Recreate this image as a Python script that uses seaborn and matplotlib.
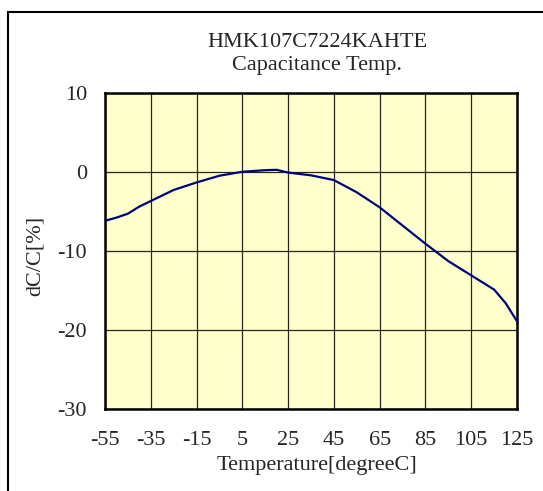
import numpy as np
import pandas as pd
import seaborn as sns
import matplotlib.pyplot as plt
from matplotlib.patches import Rectangle

# data
temperature = [-55, -50, -45, -40, -35, -25, -15, -5, 5, 15, 20, 25, 35, 45,
               55, 65, 75, 85, 95, 105, 115, 120, 125]
dcc = [-6.2, -5.8, -5.3, -4.4, -3.7, -2.3, -1.35, -0.5, 0.0, 0.2, 0.25, -0.1,
       -0.45, -1.05, -2.6, -4.5, -6.8, -9.1, -11.3, -13.1, -14.9, -16.6, -18.9]
x_ticks = [-55, -35, -15, 5, 25, 45, 65, 85, 105, 125]
y_ticks = [10, 0, -10, -20, -30]
title_lines = ["HMK107C7224KAHTE", "Capacitance Temp."]

sns.set_style("white")
plt.rcParams['font.family'] = ['Liberation Serif', 'DejaVu Serif']
FS = 16

W, H = 543, 491
fig = plt.figure(figsize=(W / 100, H / 100), dpi=100)
ax = fig.add_axes([105 / W, 1 - 409 / H, (517 - 105) / W, (409 - 92.7) / H])

df = pd.DataFrame({'Temperature': temperature, 'dC/C': dcc})
sns.lineplot(data=df, x='Temperature', y='dC/C', ax=ax, color='#000080',
             linewidth=1.6, zorder=3)

ax.set_facecolor('#FFFFCC')
ax.set_xlim(-55, 125)
ax.set_ylim(-30, 10)
ax.set_xticks(np.arange(-55, 126, 20))
ax.set_xticklabels([str(t) for t in x_ticks])
ax.set_yticks(y_ticks)
ax.set_yticklabels([str(t) for t in y_ticks])
ax.grid(True, color='black', linewidth=0.9, alpha=0.85)
ax.tick_params(length=0, labelsize=FS)
ax.tick_params(axis='x', pad=16)
ax.tick_params(axis='y', pad=13)
for s in ax.spines.values():
    s.set_color('black')
    s.set_linewidth(1.8)

ax.set_xlabel('')
ax.set_ylabel('')
fig.text(317 / W, 1 - 470 / H, 'Temperature[degreeC]', ha='center', va='baseline', fontsize=FS)
fig.text(35 / W, 1 - 256 / H, 'dC/C[%]', ha='center', va='center', rotation=90, fontsize=FS)

fig.text(317 / W, 1 - 46.7 / H, title_lines[0], ha='center', va='baseline', fontsize=FS)
fig.text(317 / W, 1 - 70 / H, title_lines[1], ha='center', va='baseline', fontsize=FS)

# outer frame (only left/top visible in the crop)
fig.patches.append(Rectangle((8 / W, -0.1), 1.2, 1 - 12 / H + 0.1, transform=fig.transFigure,
                             fill=False, edgecolor='black', linewidth=1.5))

fig.savefig('out.png', dpi=100)
